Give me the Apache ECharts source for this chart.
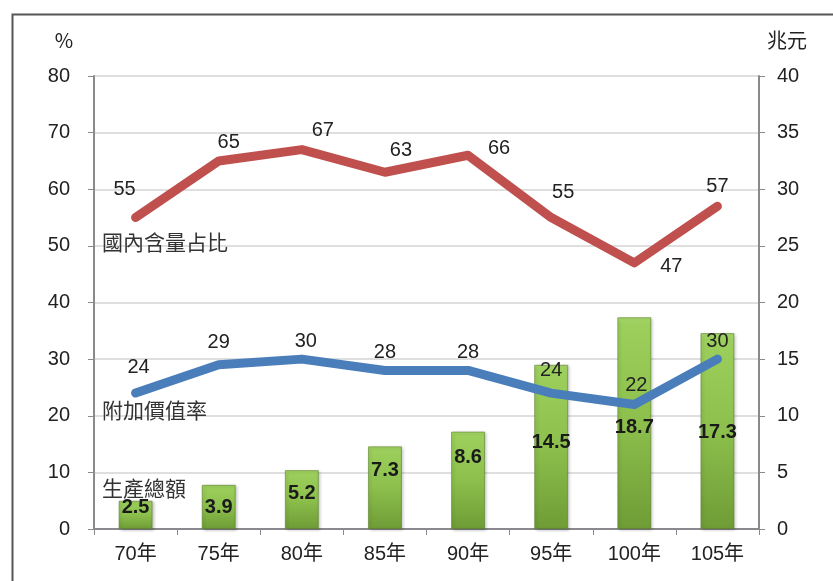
<!DOCTYPE html>
<html>
<head>
<meta charset="utf-8">
<script src="https://cdn.jsdelivr.net/npm/echarts@6/dist/echarts.min.js"></script>
<style>
  html, body { margin: 0; padding: 0; background: #fff; }
  #chart { width: 833px; height: 581px; }
</style>
</head>
<body>
<div id="chart"></div>
<script>
// Categories (year, ROC calendar)
const years = ['70年', '75年', '80年', '85年', '90年', '95年', '100年', '105年'];

// 生產總額 (兆元, right axis)
const outputTotal = [2.5, 3.9, 5.2, 7.3, 8.6, 14.5, 18.7, 17.3];
// 國內含量占比 (%, left axis)
const domesticShare = [55, 65, 67, 63, 66, 55, 47, 57];
// 附加價值率 (%, left axis)
const valueAddedRate = [24, 29, 30, 28, 28, 24, 22, 30];

// Per-point label nudges (px) so value labels clear the lines
const shareLabelShift = [[-11, -28], [10, -18], [21, -19], [16, -22], [31, -7], [12, -25], [37, 4], [0, -20]];
const rateLabelShift = [[3, -26], [0, -22], [4, -18], [0, -18], [0, -18], [0, -23], [2, -19], [0, -18]];
// Distance (px) from bar top down to the centre of its value label
const barLabelDrop = [7, 23, 23, 24, 26, 78, 110, 99];

const FONT = '"Liberation Sans", Arial, "Noto Sans CJK TC", sans-serif';
const CJK = '"Noto Sans CJK TC", "Noto Sans CJK SC", sans-serif';
const TXT = '#222';

const chart = echarts.init(document.getElementById('chart'), null, { renderer: 'canvas' });

const option = {
  backgroundColor: '#fff',
  animation: false,
  grid: { left: 94, right: 74, top: 76, bottom: 52, containLabel: false },
  xAxis: {
    type: 'category',
    data: years,
    boundaryGap: true,
    axisLine: { lineStyle: { color: '#8a8a8e', width: 2 } },
    axisTick: { show: true, length: 6, lineStyle: { color: '#8a8a8e', width: 1 } },
    axisLabel: { color: TXT, fontSize: 20, fontFamily: FONT, margin: 15 }
  },
  yAxis: [
    {
      type: 'value', min: 0, max: 80, interval: 10, position: 'left',
      axisLine: { show: true, lineStyle: { color: '#8a8a8e', width: 2 } },
      axisTick: { show: true, length: 6, lineStyle: { color: '#8a8a8e', width: 1 } },
      axisLabel: { color: TXT, fontSize: 20, fontFamily: FONT, margin: 24 },
      splitLine: { show: true, lineStyle: { color: '#d4d4d4', width: 1.5 } }
    },
    {
      type: 'value', min: 0, max: 40, interval: 5, position: 'right',
      axisLine: { show: true, lineStyle: { color: '#8a8a8e', width: 2 } },
      axisTick: { show: true, length: 6, lineStyle: { color: '#8a8a8e', width: 1 } },
      axisLabel: { color: TXT, fontSize: 20, fontFamily: FONT, margin: 18 },
      splitLine: { show: false }
    }
  ],
  series: [
    {
      name: '生產總額',
      type: 'bar',
      yAxisIndex: 1,
      barWidth: 34,
      z: 2,
      itemStyle: {
        color: new echarts.graphic.LinearGradient(0, 0, 0, 1, [
          { offset: 0, color: '#acdb6e' },
          { offset: 0.03, color: '#9ccf5c' },
          { offset: 0.5, color: '#8cbf4c' },
          { offset: 1, color: '#6f9c36' }
        ]),
        borderColor: 'rgba(90,130,40,0.6)',
        borderWidth: 1,
        shadowColor: 'rgba(0,0,0,0.25)',
        shadowBlur: 3,
        shadowOffsetX: 1.5,
        shadowOffsetY: 1
      },
      data: outputTotal.map((v, i) => ({
        value: v,
        label: { distance: barLabelDrop[i] - 10 }
      })),
      label: {
        show: true,
        position: 'insideTop',
        color: '#1a1a1a',
        fontSize: 20,
        fontWeight: 'bold',
        fontFamily: FONT,
        lineHeight: 20
      }
    },
    {
      name: '國內含量占比',
      type: 'line',
      yAxisIndex: 0,
      z: 3,
      symbol: 'circle',
      symbolSize: 1,
      itemStyle: { color: '#c0504d' },
      lineStyle: { color: '#c0504d', width: 9, cap: 'round', join: 'round' },
      data: domesticShare.map((v, i) => ({ value: v, label: { offset: shareLabelShift[i] } })),
      label: { show: true, position: 'inside', color: TXT, fontSize: 20, fontFamily: FONT }
    },
    {
      name: '附加價值率',
      type: 'line',
      yAxisIndex: 0,
      z: 4,
      symbol: 'circle',
      symbolSize: 1,
      itemStyle: { color: '#4a7ebb' },
      lineStyle: { color: '#4a7ebb', width: 9, cap: 'round', join: 'round' },
      data: valueAddedRate.map((v, i) => ({ value: v, label: { offset: rateLabelShift[i] } })),
      label: { show: true, position: 'inside', color: TXT, fontSize: 20, fontFamily: FONT }
    }
  ],
  graphic: [
    // outer frame
    { type: 'rect', left: 10, top: 12, z: 0, silent: true,
      shape: { x: 0, y: 0, width: 900, height: 700 },
      style: { fill: 'none', stroke: '#555', lineWidth: 2 } },
    // axis unit captions
    { type: 'text', x: 64, y: 40, z: 10,
      style: { text: '%', fill: TXT, font: '20px ' + CJK, textAlign: 'center', textVerticalAlign: 'middle' } },
    { type: 'text', x: 787, y: 40, z: 10,
      style: { text: '兆元', fill: TXT, font: '20px ' + CJK, textAlign: 'center', textVerticalAlign: 'middle' } },
    // series captions
    { type: 'text', x: 102, y: 242, z: 10,
      style: { text: '國內含量占比', fill: '#333', font: '21px ' + CJK, textAlign: 'left', textVerticalAlign: 'middle' } },
    { type: 'text', x: 102, y: 410, z: 10,
      style: { text: '附加價值率', fill: '#333', font: '21px ' + CJK, textAlign: 'left', textVerticalAlign: 'middle' } },
    { type: 'text', x: 102, y: 488, z: 10,
      style: { text: '生產總額', fill: '#333', font: '21px ' + CJK, textAlign: 'left', textVerticalAlign: 'middle' } }
  ]
};

chart.setOption(option);
</script>
</body>
</html>
